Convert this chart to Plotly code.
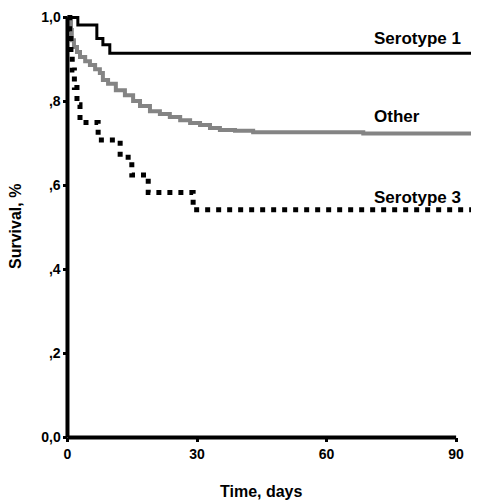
import plotly.graph_objects as go

# ---- data ----
sero1_t = [0, 2.4, 6.8, 8.2, 9.8, 95.3]
sero1_s = [1.0, 0.982, 0.950, 0.935, 0.915, 0.915]

other_t = [0, 0.6, 0.8, 1.0, 1.5, 2.2, 2.9, 4.1, 5.2, 6.4, 7.5, 8.2, 9.4, 11.2, 13.3,
           15.2, 16.8, 19.1, 21.4, 23.7, 26.1, 28.4, 30.7, 33.0, 35.3, 38.8, 43.0,
           68.5, 95.3]
other_s = [1.0, 1.0, 0.970, 0.946, 0.930, 0.918, 0.906, 0.896, 0.887, 0.877, 0.868,
           0.851, 0.842, 0.827, 0.815, 0.801, 0.789, 0.777, 0.770, 0.763, 0.755,
           0.749, 0.744, 0.737, 0.732, 0.730, 0.727, 0.724, 0.722]

sero3_t = [0, 0.5, 0.8, 1.1, 1.6, 2.2, 2.9, 7.1, 12.2, 14.9, 18.7, 29.1, 95.3]
sero3_s = [1.0, 0.958, 0.917, 0.875, 0.833, 0.792, 0.750, 0.708, 0.667, 0.625,
           0.583, 0.542, 0.542]

x_ticks = [0, 30, 60, 90]
x_ticklabels = ["0", "30", "60", "90"]
y_ticks = [0.0, 0.2, 0.4, 0.6, 0.8, 1.0]
y_ticklabels = ["0,0", ",2", ",4", ",6", ",8", "1,0"]

labels = ["Serotype 1", "Other", "Serotype 3"]
label_y = [0.95, 0.765, 0.572]

FONT = "Liberation Sans, Arial, Helvetica, sans-serif"

# page has an 8px body margin; size the figure so it fills the window exactly
OFF = 8
W, H = 479 - OFF, 500 - OFF
L, R, T, B = 53, 0, 0, 50
xr = [-1.5, 95.3]
yr = [-0.03, 1.0226]
plot_w = W - L - R
plot_h = H - T - B
xpos = (0 - xr[0]) / (xr[1] - xr[0])
ypos = (0 - yr[0]) / (yr[1] - yr[0])


def px_to_paper(px, py):
    fx, fy = px - OFF, py - OFF
    return (fx - L) / plot_w, (H - fy - B) / plot_h


fig = go.Figure()
fig.add_trace(go.Scatter(x=other_t, y=other_s, mode="lines", line_shape="hv",
                         line=dict(color="#848484", width=4), hoverinfo="skip"))
fig.add_trace(go.Scatter(x=sero3_t, y=sero3_s, mode="lines", line_shape="hv",
                         line=dict(color="black", width=5, dash="5px,6px"), hoverinfo="skip"))
fig.add_trace(go.Scatter(x=sero1_t, y=sero1_s, mode="lines", line_shape="hv",
                         line=dict(color="black", width=3), hoverinfo="skip"))

fig.update_layout(
    width=W, height=H,
    margin=dict(l=L, r=R, t=T, b=B, pad=0),
    paper_bgcolor="white", plot_bgcolor="white",
    showlegend=False,
    font=dict(family=FONT, color="black"),
    xaxis=dict(range=xr, tickvals=x_ticks, ticktext=x_ticklabels, showgrid=False,
               zeroline=False, showline=False, ticks="outside", ticklen=4, tickwidth=3,
               tickcolor="black", anchor="free", position=ypos,
               tickfont=dict(size=14, weight="bold", family=FONT)),
    yaxis=dict(range=yr, tickvals=y_ticks, ticktext=y_ticklabels, showgrid=False,
               zeroline=False, showline=False, ticks="outside", ticklen=4, tickwidth=3,
               tickcolor="black", anchor="free", position=xpos,
               tickfont=dict(size=14, weight="bold", family=FONT)),
)

# axis lines
fig.add_shape(type="line", xref="x", yref="y", x0=0, x1=90, y0=0, y1=0,
              line=dict(color="black", width=4))
fig.add_shape(type="line", xref="x", yref="y", x0=0, x1=0, y0=0, y1=1.0,
              line=dict(color="black", width=4))

for lab, ly in zip(labels, label_y):
    fig.add_annotation(x=70.5, y=ly, xref="x", yref="y", text=lab, showarrow=False,
                       xanchor="left", yanchor="middle",
                       font=dict(size=17, weight="bold", family=FONT, color="black"))

ax, ay = px_to_paper(15, 227)
fig.add_annotation(x=ax, y=ay, xref="paper", yref="paper", text="Survival, %",
                   showarrow=False, textangle=-90, xanchor="center", yanchor="middle",
                   font=dict(size=16, weight="bold", family=FONT, color="black"))
bx, by = px_to_paper(261, 491)
fig.add_annotation(x=bx, y=by, xref="paper", yref="paper", text="Time, days",
                   showarrow=False, xanchor="center", yanchor="middle",
                   font=dict(size=16, weight="bold", family=FONT, color="black"))

fig.write_html("out.html")
